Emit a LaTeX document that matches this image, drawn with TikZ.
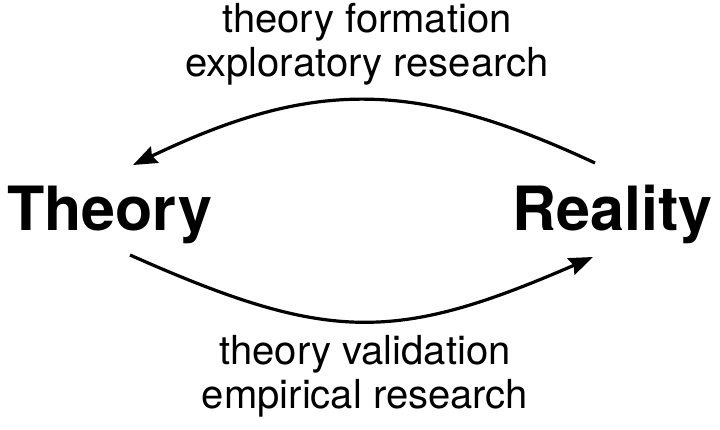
\documentclass[tikz,border=0pt]{standalone}
\usepackage{fontspec}
\setmainfont{TeX Gyre Heros}
\usetikzlibrary{arrows.meta}
\begin{document}
\begin{tikzpicture}[x=1pt,y=-1pt,
  pole/.style={inner sep=0pt,font=\fontsize{61}{61}\selectfont\bfseries},
  note/.style={inner sep=0pt,align=center,font=\fontsize{40}{44}\selectfont},
  arc/.style={line width=3.2pt,-{Stealth[length=24pt,width=18pt,inset=3pt]}}]
\useasboundingbox (0,0) rectangle (720,430);
\node[pole,anchor=base west] (theory) at (7,231) {Theory};
\node[pole,anchor=base east] (reality) at (713,231) {Reality};
\node[note,anchor=base] (formation) at (367,77) {theory formation\\exploratory research};
\node[note,anchor=base] (validation) at (365,408) {theory validation\\empirical research};
\coordinate (top from) at (595,163);
\coordinate (top to) at (133,165);
\coordinate (low from) at (130,255);
\coordinate (low to) at (593,257);
\draw[arc] (top from) .. controls (415,79) and (313,79) .. (top to);
\draw[arc] (low from) .. controls (328,343) and (395,343) .. (low to);
\end{tikzpicture}
\end{document}
